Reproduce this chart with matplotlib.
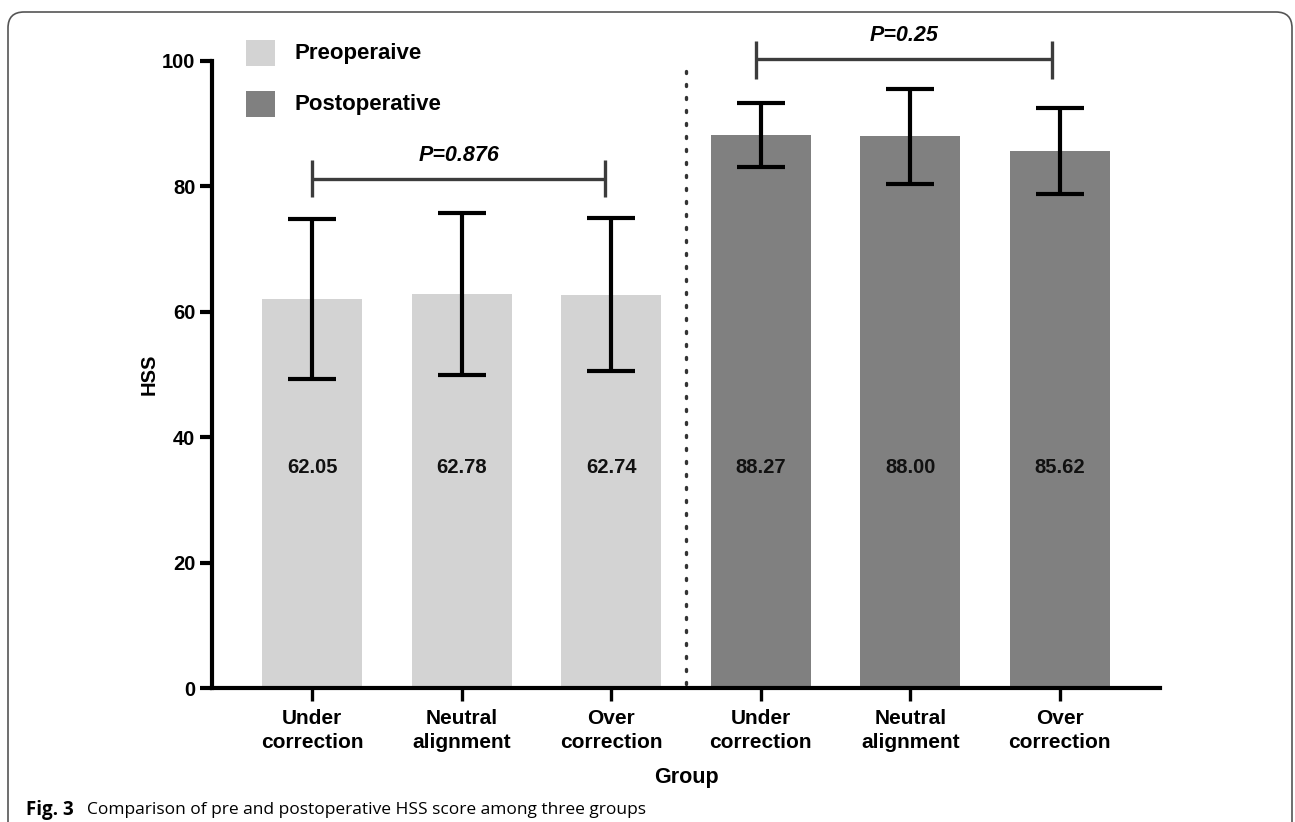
import matplotlib
matplotlib.use("Agg")
import matplotlib.pyplot as plt
from matplotlib.patches import FancyBboxPatch, Rectangle

# ---- data ----
categories = ["Under\ncorrection", "Neutral\nalignment", "Over\ncorrection",
              "Under\ncorrection", "Neutral\nalignment", "Over\ncorrection"]
pre_means = [62.05, 62.78, 62.74]
pre_sd = [12.8, 12.9, 12.2]
post_means = [88.27, 88.00, 85.62]
post_sd = [5.1, 7.6, 6.9]
value_labels = ["62.05", "62.78", "62.74", "88.27", "88.00", "85.62"]
legend_labels = ["Preoperaive", "Postoperative"]
p_texts = ["P=0.876", "P=0.25"]
yticks = [0, 20, 40, 60, 80, 100]

PRE_C = "#d3d3d3"
POST_C = "#808080"
FONT = "Liberation Sans"

fig = plt.figure(figsize=(12.95, 8.22), dpi=100)
ax = fig.add_axes([212/1295, 1-688/822, (1160-212)/1295, (688-61)/822])

x_pre = [0, 1, 2]
x_post = [3, 4, 5]
bw = 0.67
ekw = dict(elinewidth=3, capthick=3, ecolor="black")
ax.bar(x_pre, pre_means, width=bw, color=PRE_C, yerr=pre_sd, capsize=17,
       error_kw=ekw, zorder=2)
ax.bar(x_post, post_means, width=bw, color=POST_C, yerr=post_sd, capsize=17,
       error_kw=ekw, zorder=2)

for xi, lab in zip(x_pre + x_post, value_labels):
    ax.text(xi, 35.1, lab, ha="center", va="center", fontsize=14.5,
            fontweight="bold", family=FONT, color="#111111", zorder=3)

# separator
ax.plot([2.5, 2.5], [0.6, 99.8], color="#333333", lw=2.4,
        linestyle=(0, (0.6, 3.3)), dash_capstyle="round", zorder=1)

# significance brackets
bc = "#3c3c3c"
def bracket(x0, x1, y, lo, hi, txt, ty):
    ax.plot([x0, x1], [y, y], color=bc, lw=2.4, clip_on=False, solid_capstyle="butt")
    ax.plot([x0, x0], [lo, hi], color=bc, lw=2.4, clip_on=False, solid_capstyle="butt")
    ax.plot([x1, x1], [lo, hi], color=bc, lw=2.4, clip_on=False, solid_capstyle="butt")
    ax.text((x0 + x1) / 2, ty, txt, ha="center", va="center", fontsize=15.5,
            fontweight="bold", fontstyle="italic", family=FONT, clip_on=False)

bracket(0.0, 1.96, 81.2, 78.3, 84.2, p_texts[0], 85.0)
bracket(2.97, 4.95, 100.3, 97.1, 103.2, p_texts[1], 104.0)

ax.set_xlim(-0.67, 5.67)
ax.set_ylim(0, 100)
ax.set_yticks(yticks)
ax.set_yticklabels([str(v) for v in yticks])
ax.set_xticks(x_pre + x_post)
ax.set_xticklabels(categories)

for s in ["top", "right"]:
    ax.spines[s].set_visible(False)
for s in ["left", "bottom"]:
    ax.spines[s].set_linewidth(3)
    ax.spines[s].set_color("black")

ax.tick_params(axis="y", length=9, width=3, pad=3, direction="out")
ax.tick_params(axis="x", length=9, width=2.4, pad=6, direction="out")
for lab in ax.get_yticklabels():
    lab.set_fontsize(14.5); lab.set_fontweight("bold"); lab.set_family(FONT)
for lab in ax.get_xticklabels():
    lab.set_fontsize(15); lab.set_fontweight("bold"); lab.set_family(FONT)
    lab.set_linespacing(1.35)

ax.set_ylabel("HSS", fontsize=14.5, fontweight="bold", family=FONT)
ax.yaxis.set_label_coords(-0.056, 0.5)
ax.set_xlabel("Group", fontsize=15.5, fontweight="bold", family=FONT)
ax.xaxis.set_label_coords(0.5, -0.126)

# legend (manual, pixel positions)
leg_colors = [PRE_C, POST_C]
leg_rows = [53, 104]
for col, lab, yc in zip(leg_colors, legend_labels, leg_rows):
    fig.patches.append(Rectangle((246, 822 - yc - 13), 29, 26, transform=None,
                                 facecolor=col, edgecolor="none"))
    fig.text(295/1295, 1 - yc/822, lab, fontsize=16, fontweight="bold",
             family=FONT, va="center", ha="left")

# outer rounded frame (open at bottom)
frame = FancyBboxPatch((8, -40), 1284, 850, boxstyle="round,pad=0,rounding_size=16",
                       transform=None, facecolor="none", edgecolor="#555555",
                       linewidth=1.2)
fig.patches.append(frame)

fig.text(26/1295, 1-810/822, "Fig. 3", fontsize=13.5, fontweight="bold",
         family="Open Sans", va="center", ha="left")
fig.text(87/1295, 1-810/822, "Comparison of pre and postoperative HSS score among three groups",
         fontsize=12.5, family="Open Sans", va="center", ha="left")

fig.savefig("out.png", dpi=100)
